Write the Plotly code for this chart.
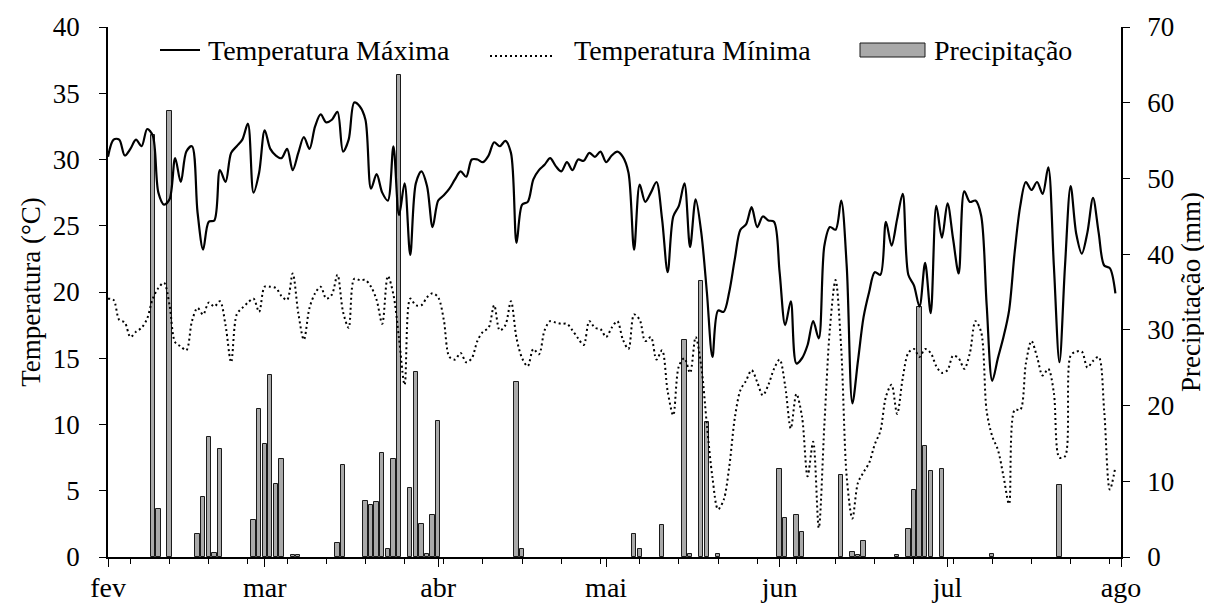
import pandas as pd
import plotly.graph_objects as go

# ---------------- data ----------------
dates = pd.date_range("2023-02-01", "2023-07-31", freq="D")  # daily categories

tmax = [
    30.2, 31.5, 31.5, 30.3, 30.8, 31.5, 31.0, 32.3, 31.8, 27.5,
    26.6, 27.0, 30.1, 28.3, 30.6, 31.0, 26.0, 23.2, 25.3, 25.4,
    29.2, 28.3, 30.5, 31.0, 31.5, 32.7, 27.5, 29.0, 32.2, 30.8,
    30.3, 30.1, 30.8, 29.2, 30.5, 31.7, 30.8, 32.5, 33.4, 32.8,
    33.0, 33.6, 30.6, 31.5, 34.3, 34.0, 33.0, 27.8, 28.9, 27.5,
    26.9, 31.0, 25.8, 28.2, 22.8, 28.2, 29.1, 28.0, 24.9, 26.9,
    27.3, 27.8, 28.5, 29.1, 28.7, 30.0, 30.0, 29.8, 30.3, 31.3,
    31.0, 31.4, 30.5, 23.7, 26.6, 26.8, 28.5, 29.2, 29.6, 30.1,
    29.5, 29.1, 29.8, 29.2, 30.0, 29.9, 30.5, 30.2, 30.6, 29.8,
    30.3, 30.6, 30.2, 29.0, 23.2, 28.1, 26.8, 27.5, 28.3, 25.5,
    21.5, 25.7, 26.5, 28.2, 23.4, 27.0, 24.5, 20.0, 15.1, 18.6,
    18.5, 20.0, 22.5, 24.7, 25.1, 26.4, 24.9, 25.7, 25.4, 25.3,
    21.5, 17.5, 19.3, 14.6, 15.0, 16.0, 17.8, 16.5, 23.5, 24.9,
    24.7, 26.9, 21.9, 11.6, 14.8, 18.1, 20.0, 21.5, 21.3, 25.3,
    23.5, 25.5, 27.4, 21.3, 20.5, 18.9, 22.2, 18.4, 26.5, 24.1,
    26.7, 24.0, 21.4, 27.6, 26.8, 26.9, 25.8, 19.0, 13.3, 15.0,
    16.6, 18.6, 23.0, 26.5, 28.3, 27.7, 28.3, 27.4, 29.4, 22.0,
    14.7, 22.0, 28.0, 24.4, 22.9, 24.5, 27.1, 24.5, 22.0, 21.8,
    19.9,
]

tmin = [
    19.5, 19.4, 17.9, 17.7, 16.6, 17.0, 17.3, 18.0, 19.5, 20.3,
    20.7, 19.0, 16.2, 15.9, 15.6, 17.8, 18.8, 18.3, 19.2, 18.9,
    19.3, 17.5, 14.7, 18.3, 18.8, 19.2, 19.5, 18.5, 20.4, 20.4,
    20.3, 19.7, 19.4, 21.4, 18.4, 16.4, 18.8, 19.9, 20.4, 19.5,
    19.8, 21.3, 18.5, 17.3, 21.0, 20.9, 20.9, 20.4, 19.4, 17.6,
    21.2, 19.8, 16.5, 13.0, 19.5, 19.0, 19.0, 19.6, 19.9, 19.6,
    17.9, 15.1, 14.9, 15.4, 14.7, 15.0, 16.3, 17.0, 17.3, 19.0,
    17.1, 17.5, 19.3, 16.5, 15.0, 14.4, 15.7, 15.3, 17.1, 17.8,
    17.7, 17.6, 17.6, 17.1, 16.5, 16.0, 17.8, 17.3, 17.2, 16.6,
    17.3, 17.8, 16.4, 15.7, 18.3, 17.9, 16.3, 16.6, 14.9, 15.6,
    12.5, 10.7, 14.4, 15.0, 13.9, 16.6, 14.4, 10.0, 6.0, 3.6,
    4.3, 6.8, 10.5, 12.6, 13.3, 14.1, 13.2, 12.2, 13.0, 14.2,
    14.9, 12.9, 9.7, 12.3, 10.6, 6.1, 8.7, 2.2, 10.0, 17.3,
    20.9, 15.8, 6.0, 2.9, 5.6, 6.4, 7.1, 8.5, 9.5, 12.1,
    13.0, 10.8, 13.5, 15.4, 15.7, 15.1, 15.7, 15.4, 14.4, 13.9,
    14.1, 15.2, 15.0, 14.2, 15.4, 17.8, 17.0, 11.0, 9.1, 8.1,
    6.1, 4.0, 11.1, 11.1, 14.6, 16.3, 15.1, 13.7, 14.2, 12.4,
    7.5, 7.6, 15.2, 15.5, 15.5, 14.3, 14.8, 15.1, 11.0, 5.1,
    6.8,
]

rain_dates = [
    "2023-02-09", "2023-02-10", "2023-02-12", "2023-02-17", "2023-02-18",
    "2023-02-19", "2023-02-20", "2023-02-21", "2023-02-27", "2023-02-28",
    "2023-03-01", "2023-03-02", "2023-03-03", "2023-03-04", "2023-03-06",
    "2023-03-07", "2023-03-14", "2023-03-15", "2023-03-19", "2023-03-20",
    "2023-03-21", "2023-03-22", "2023-03-23", "2023-03-24", "2023-03-25",
    "2023-03-27", "2023-03-28", "2023-03-29", "2023-03-30", "2023-03-31",
    "2023-04-01", "2023-04-15", "2023-04-16", "2023-05-06", "2023-05-07",
    "2023-05-11", "2023-05-15", "2023-05-16", "2023-05-18", "2023-05-19",
    "2023-05-21", "2023-06-01", "2023-06-02", "2023-06-04", "2023-06-05",
    "2023-06-12", "2023-06-14", "2023-06-15", "2023-06-16", "2023-06-22",
    "2023-06-24", "2023-06-25", "2023-06-26", "2023-06-27", "2023-06-28",
    "2023-06-30", "2023-07-09", "2023-07-21",
]
rain_mm = [
    55.7, 6.4, 58.9, 3.0, 7.9,
    15.9, 0.5, 14.3, 4.9, 19.5,
    14.9, 24.0, 9.7, 13.0, 0.2,
    0.2, 1.9, 12.1, 7.4, 6.9,
    7.2, 13.7, 1.0, 13.0, 63.7,
    9.1, 24.4, 4.4, 0.4, 5.6,
    17.9, 23.1, 1.0, 3.0, 1.0,
    4.2, 28.7, 0.35, 36.5, 17.8,
    0.35, 11.6, 5.1, 5.5, 3.3,
    10.8, 0.6, 0.3, 2.1, 0.3,
    3.7, 8.8, 33.0, 14.7, 11.3,
    11.6, 0.4, 9.5,
]

month_ticks = ["2023-02-01", "2023-03-01", "2023-04-01", "2023-05-01",
               "2023-06-01", "2023-07-01", "2023-08-01"]
month_labels = ["fev", "mar", "abr", "mai", "jun", "jul", "ago"]

legend_labels = ["Temperatura Máxima", "Temperatura Mínima", "Precipitação"]

# ---------------- figure ----------------
FONT = "Liberation Serif, Times New Roman, serif"
DAY_MS = 86400000

fig = go.Figure()

fig.add_trace(go.Bar(
    x=rain_dates, y=rain_mm, name=legend_labels[2], yaxis="y",
    width=0.78 * DAY_MS,
    marker=dict(color="#a9a9a9", line=dict(color="#1a1a1a", width=1)),
    showlegend=False,
))
fig.add_trace(go.Scatter(
    x=dates, y=tmin, name=legend_labels[1], yaxis="y2", mode="lines",
    line=dict(color="black", width=2, dash="2px,3px", shape="spline", smoothing=0.9),
    showlegend=False,
))
fig.add_trace(go.Scatter(
    x=dates, y=tmax, name=legend_labels[0], yaxis="y2", mode="lines",
    line=dict(color="black", width=2.2, shape="spline", smoothing=0.9),
    showlegend=False,
))

axis_font = dict(family=FONT, size=27, color="black")
xtick_font = dict(family=FONT, size=28, color="black")

# the page body adds an 8 px offset, margins below compensate for it
fig.update_layout(
    width=1212, height=610,
    margin=dict(l=100, r=99, t=19, b=61),
    paper_bgcolor="white", plot_bgcolor="white",
    font=dict(family=FONT, size=27, color="black"),
    bargap=0,
    xaxis=dict(
        type="date", range=["2023-02-01", "2023-08-01"], automargin=False,
        tickmode="array", tickvals=month_ticks, ticktext=month_labels,
        ticks="outside", ticklen=8, tickwidth=1.2, tickcolor="black",
        showline=True, linecolor="black", linewidth=1.5,
        showgrid=False, zeroline=False, tickfont=xtick_font,
        ticklabelstandoff=-3,
        minor=dict(ticks="outside", ticklen=5, tickwidth=1, tickcolor="black",
                   tick0="2023-02-05", dtick=7 * DAY_MS, showgrid=False),
    ),
    yaxis=dict(
        range=[0, 70], side="right", tickmode="linear", tick0=0, dtick=10,
        automargin=False,
        ticks="outside", ticklen=7, tickwidth=1.2, tickcolor="black",
        showline=True, linecolor="black", linewidth=1.5,
        showgrid=False, zeroline=False, tickfont=axis_font,
        ticklabelstandoff=12,
        title=dict(text="Precipitação (mm)", font=axis_font, standoff=8),
    ),
    yaxis2=dict(
        range=[0, 40], side="left", overlaying="y", tickmode="linear", tick0=0, dtick=5,
        automargin=False,
        ticks="outside", ticklen=7, tickwidth=1.2, tickcolor="black",
        showline=True, linecolor="black", linewidth=1.5,
        showgrid=False, zeroline=False, tickfont=axis_font,
        ticklabelstandoff=14,
        title=dict(text="Temperatura (°C)", font=axis_font, standoff=4),
    ),
)

# ---------------- hand-placed legend (inside the plot, top) ----------------
def px_x(px):
    return (px - 108) / 1013.0

def px_y(py):
    return (557 - py) / 530.0

leg_font = dict(family=FONT, size=28, color="black")
fig.add_shape(type="line", xref="paper", yref="paper",
              x0=px_x(160), x1=px_x(200), y0=px_y(50), y1=px_y(50),
              line=dict(color="black", width=2.2))
fig.add_annotation(xref="paper", yref="paper", x=px_x(206), y=px_y(50),
                   text=legend_labels[0], showarrow=False, xanchor="left",
                   yanchor="middle", font=leg_font)
fig.add_shape(type="line", xref="paper", yref="paper",
              x0=px_x(490), x1=px_x(555), y0=px_y(56), y1=px_y(56),
              line=dict(color="black", width=2, dash="2px,3px"))
fig.add_annotation(xref="paper", yref="paper", x=px_x(572), y=px_y(50),
                   text=legend_labels[1], showarrow=False, xanchor="left",
                   yanchor="middle", font=leg_font)
fig.add_shape(type="rect", xref="paper", yref="paper",
              x0=px_x(860), x1=px_x(925), y0=px_y(57), y1=px_y(43),
              fillcolor="#a9a9a9", line=dict(color="#1a1a1a", width=1))
fig.add_annotation(xref="paper", yref="paper", x=px_x(932), y=px_y(50),
                   text=legend_labels[2], showarrow=False, xanchor="left",
                   yanchor="middle", font=leg_font)

fig.write_html("out.html")
